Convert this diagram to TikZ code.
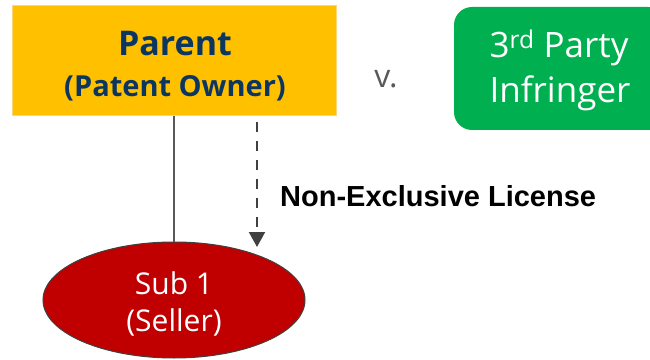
\documentclass[tikz,border=0pt]{standalone}
\usepackage{fontspec}
\setmainfont{Open Sans}
\newfontfamily\arialfont{Liberation Sans}
\usetikzlibrary{arrows.meta,shapes.geometric}
\definecolor{gold}{RGB}{255,192,0}
\definecolor{goldedge}{RGB}{252,214,120}
\definecolor{navy}{RGB}{12,54,98}
\definecolor{grn}{RGB}{0,176,80}
\definecolor{sred}{RGB}{192,0,0}
\definecolor{edgegray}{RGB}{64,64,64}
\definecolor{linegray}{RGB}{89,89,89}
\tikzset{
  parentbox/.style={rectangle, fill=gold, draw=goldedge, line width=1pt,
    minimum width=324pt, minimum height=110pt, inner sep=0pt},
  infbox/.style={rectangle, rounded corners=18pt, fill=grn, draw=none,
    minimum width=212pt, minimum height=123pt, inner sep=0pt},
  subell/.style={ellipse, fill=sred, draw=edgegray, line width=1pt,
    minimum width=262pt, minimum height=116pt, inner sep=0pt},
  ptext/.style={anchor=base, inner sep=0pt, text=navy, font=\bfseries\fontsize{#1}{#1}\selectfont},
  wtext/.style={anchor=base, inner sep=0pt, text=white, font=\fontsize{#1}{#1}\selectfont},
  solidline/.style={draw=linegray, line width=1.5pt},
  dashline/.style={draw=edgegray, line width=2pt, dash pattern=on 10pt off 9pt,
    -{Triangle[width=16pt,length=15pt]}},
  vlabel/.style={text=linegray, font=\fontsize{32}{36}\selectfont, inner sep=0pt},
  lic/.style={font=\arialfont\bfseries\fontsize{29}{34}\selectfont, inner sep=0pt}
}
\begin{document}
\begin{tikzpicture}[x=1pt,y=1pt]
\useasboundingbox (0,0) rectangle (650,359);
\node[parentbox] (parent) at (174,298) {};
\node[ptext=34] (parentA) at (175,303) {Parent};
\node[ptext=29] (parentB) at (175,262) {(Patent Owner)};
\node[infbox] (inf) at (560,290.5) {};
\node[wtext=35] (infA) at (559,301) {3\textsuperscript{rd} Party};
\node[wtext=35] (infB) at (560,256) {Infringer};
\node[subell] (sub) at (174,59) {};
\node[wtext=30] (subA) at (174,65) {Sub 1};
\node[wtext=30] (subB) at (174,28) {(Seller)};
\node[vlabel, anchor=base] (v) at (386,271) {v.};
\node[lic, anchor=base west] (lic) at (280,152) {Non-Exclusive License};
\coordinate (dstart) at (257,237);
\coordinate (dend) at (257,112);
\draw[solidline] (parent.south) -- (sub.north);
\draw[dashline] (dstart) -- (dend);
\end{tikzpicture}
\end{document}
